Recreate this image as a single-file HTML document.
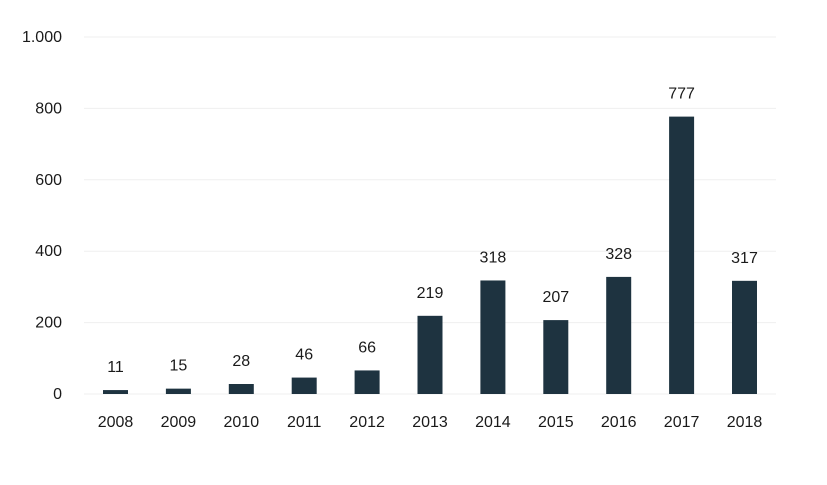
<!DOCTYPE html>
<html><head><meta charset="utf-8"><style>
body{margin:0;background:#fff;}
svg{display:block;font-family:"Liberation Sans",sans-serif;}
</style></head><body>
<svg id="c" width="827" height="485"></svg>
<script>
const categories=["2008","2009","2010","2011","2012","2013","2014","2015","2016","2017","2018"];
const values=[11,15,28,46,66,219,318,207,328,777,317];
const yTicks=[0,200,400,600,800,1000];
const yTickLabels=["0","200","400","600","800","1.000"];
const svg=document.getElementById('c');
const NS='http://www.w3.org/2000/svg';
const y0=394,y1=37,yMax=1000;
const y=v=>y0-(v/yMax)*(y0-y1);
const x=i=>115.5+i*62.9;
function mk(t,a){const e=document.createElementNS(NS,t);for(const k in a)e.setAttribute(k,a[k]);svg.appendChild(e);return e;}
yTicks.forEach((t,i)=>{
  const l=mk('line',{x1:84,x2:776,y1:y(t),y2:y(t),stroke:'#efefef','stroke-width':1});
  
  
  const tx=mk('text',{x:62,y:y(t)+5,'text-anchor':'end','font-size':16,fill:'#1a1a1a'});
  tx.textContent=yTickLabels[i];
  
  
});
categories.forEach((c,i)=>{
  const v=values[i];
  const r=mk('rect',{x:x(i)-12.5,y:y(v),width:25,height:y0-y(v),fill:'#1e3340'});
  
  
  const vl=mk('text',{x:x(i),y:y(v)-18,'text-anchor':'middle','font-size':16,fill:'#1a1a1a'});
  vl.textContent=v;
  
  
  const xl=mk('text',{x:x(i),y:427,'text-anchor':'middle','font-size':16,fill:'#1a1a1a'});
  xl.textContent=c;
  
  
});
</script>
</body></html>
